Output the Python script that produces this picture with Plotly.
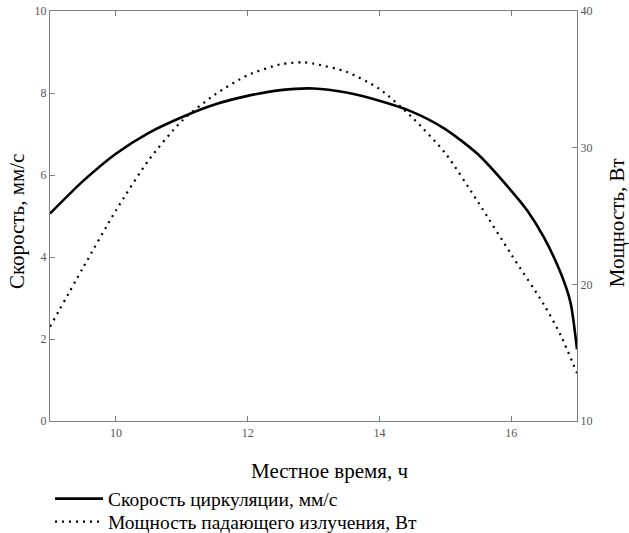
import plotly.graph_objects as go

# Local time, h
time_h = [9.0, 9.5, 10.0, 10.5, 11.0, 11.5, 12.0, 12.5, 13.0, 13.5, 14.0, 14.5,
          15.0, 15.5, 16.0, 16.25, 16.5, 16.75, 16.9, 17.0]
# Circulation velocity, mm/s (left axis)
velocity = [5.06, 5.85, 6.52, 7.03, 7.41, 7.72, 7.93, 8.07, 8.11, 8.01, 7.81, 7.54,
            7.12, 6.5, 5.62, 5.12, 4.47, 3.62, 2.9, 1.75]

# Incident radiation power, W (right axis)
time_p = [9.0, 9.5, 10.0, 10.5, 11.0, 11.5, 12.0, 12.5, 12.85, 13.0, 13.5, 14.0,
          14.5, 15.0, 15.5, 16.0, 16.5, 16.75, 17.0]
power = [16.9, 21.2, 25.4, 29.1, 31.95, 33.87, 35.3, 36.1, 36.25, 36.15, 35.55, 34.3,
         32.2, 29.6, 26.0, 22.2, 18.5, 16.3, 13.5]

x_ticks = [10, 12, 14, 16]
y_left_ticks = [0, 2, 4, 6, 8, 10]
y_right_ticks = [10, 20, 30, 40]

name_v = "Скорость циркуляции, мм/с"
name_p = "Мощность падающего излучения, Вт"
x_title = "Местное время, ч"
y_title = "Скорость, мм/с"
y2_title = "Мощность, Вт"

serif = "Liberation Serif"
axis_col = "#808080"
tick_font = dict(family=serif, size=12, color="#555555")
leg_font = dict(family=serif, size=19.5, color="black")
xt_font = dict(family=serif, size=21, color="black")
yt_font = dict(family=serif, size=21, color="black")

fig = go.Figure()
fig.add_trace(go.Scatter(x=time_h, y=velocity, mode="lines", name=name_v,
                         line=dict(color="black", width=2.6, shape="spline", smoothing=0.7),
                         yaxis="y", legend="legend"))
fig.add_trace(go.Scatter(x=time_p, y=power, mode="lines", name=name_p,
                         line=dict(color="black", width=2.2, dash="2px,5px",
                                   shape="spline", smoothing=0.7),
                         yaxis="y2", legend="legend2"))

leg_common = dict(xanchor="left", yanchor="middle", font=leg_font,
                  bgcolor="rgba(0,0,0,0)", itemwidth=48, borderwidth=0)

fig.update_layout(
    width=629, height=533,
    margin=dict(l=50, r=52, t=11, b=112, autoexpand=False),
    plot_bgcolor="white", paper_bgcolor="white",
    font=dict(family=serif, color="black"),
    showlegend=True,
    legend=dict(x=0.0, y=-0.190, **leg_common),
    legend2=dict(x=0.0, y=-0.246, **leg_common),
    xaxis=dict(range=[9, 17], tickvals=x_ticks, ticks="inside", ticklen=5,
               tickcolor=axis_col, showline=True, linecolor=axis_col, linewidth=1.2,
               mirror="ticks", showgrid=False, zeroline=False, tickfont=tick_font),
    yaxis=dict(range=[0, 10], tickvals=y_left_ticks, ticks="inside", ticklen=5,
               tickcolor=axis_col, showline=True, linecolor=axis_col, linewidth=1.2,
               showgrid=False, zeroline=False, tickfont=tick_font),
    yaxis2=dict(range=[10, 40], tickvals=y_right_ticks, overlaying="y", side="right",
                ticks="inside", ticklen=5, tickcolor=axis_col, showline=True,
                linecolor=axis_col, linewidth=1.2, showgrid=False, zeroline=False,
                tickfont=tick_font),
)

fig.add_annotation(text=x_title, xref="paper", yref="paper",
                   x=0.5307, y=-0.122, xanchor="center", yanchor="middle",
                   showarrow=False, font=xt_font)
fig.add_annotation(text=y_title, xref="paper", yref="paper", textangle=-90,
                   x=-0.0627, y=0.4875, xanchor="center", yanchor="middle",
                   showarrow=False, font=yt_font)
fig.add_annotation(text=y2_title, xref="paper", yref="paper", textangle=-90,
                   x=1.076, y=0.4826, xanchor="center", yanchor="middle",
                   showarrow=False, font=yt_font)

fig.write_html("out.html", config={"displayModeBar": False},
               post_script="document.body.style.margin='0px';document.body.style.overflow='hidden';")
